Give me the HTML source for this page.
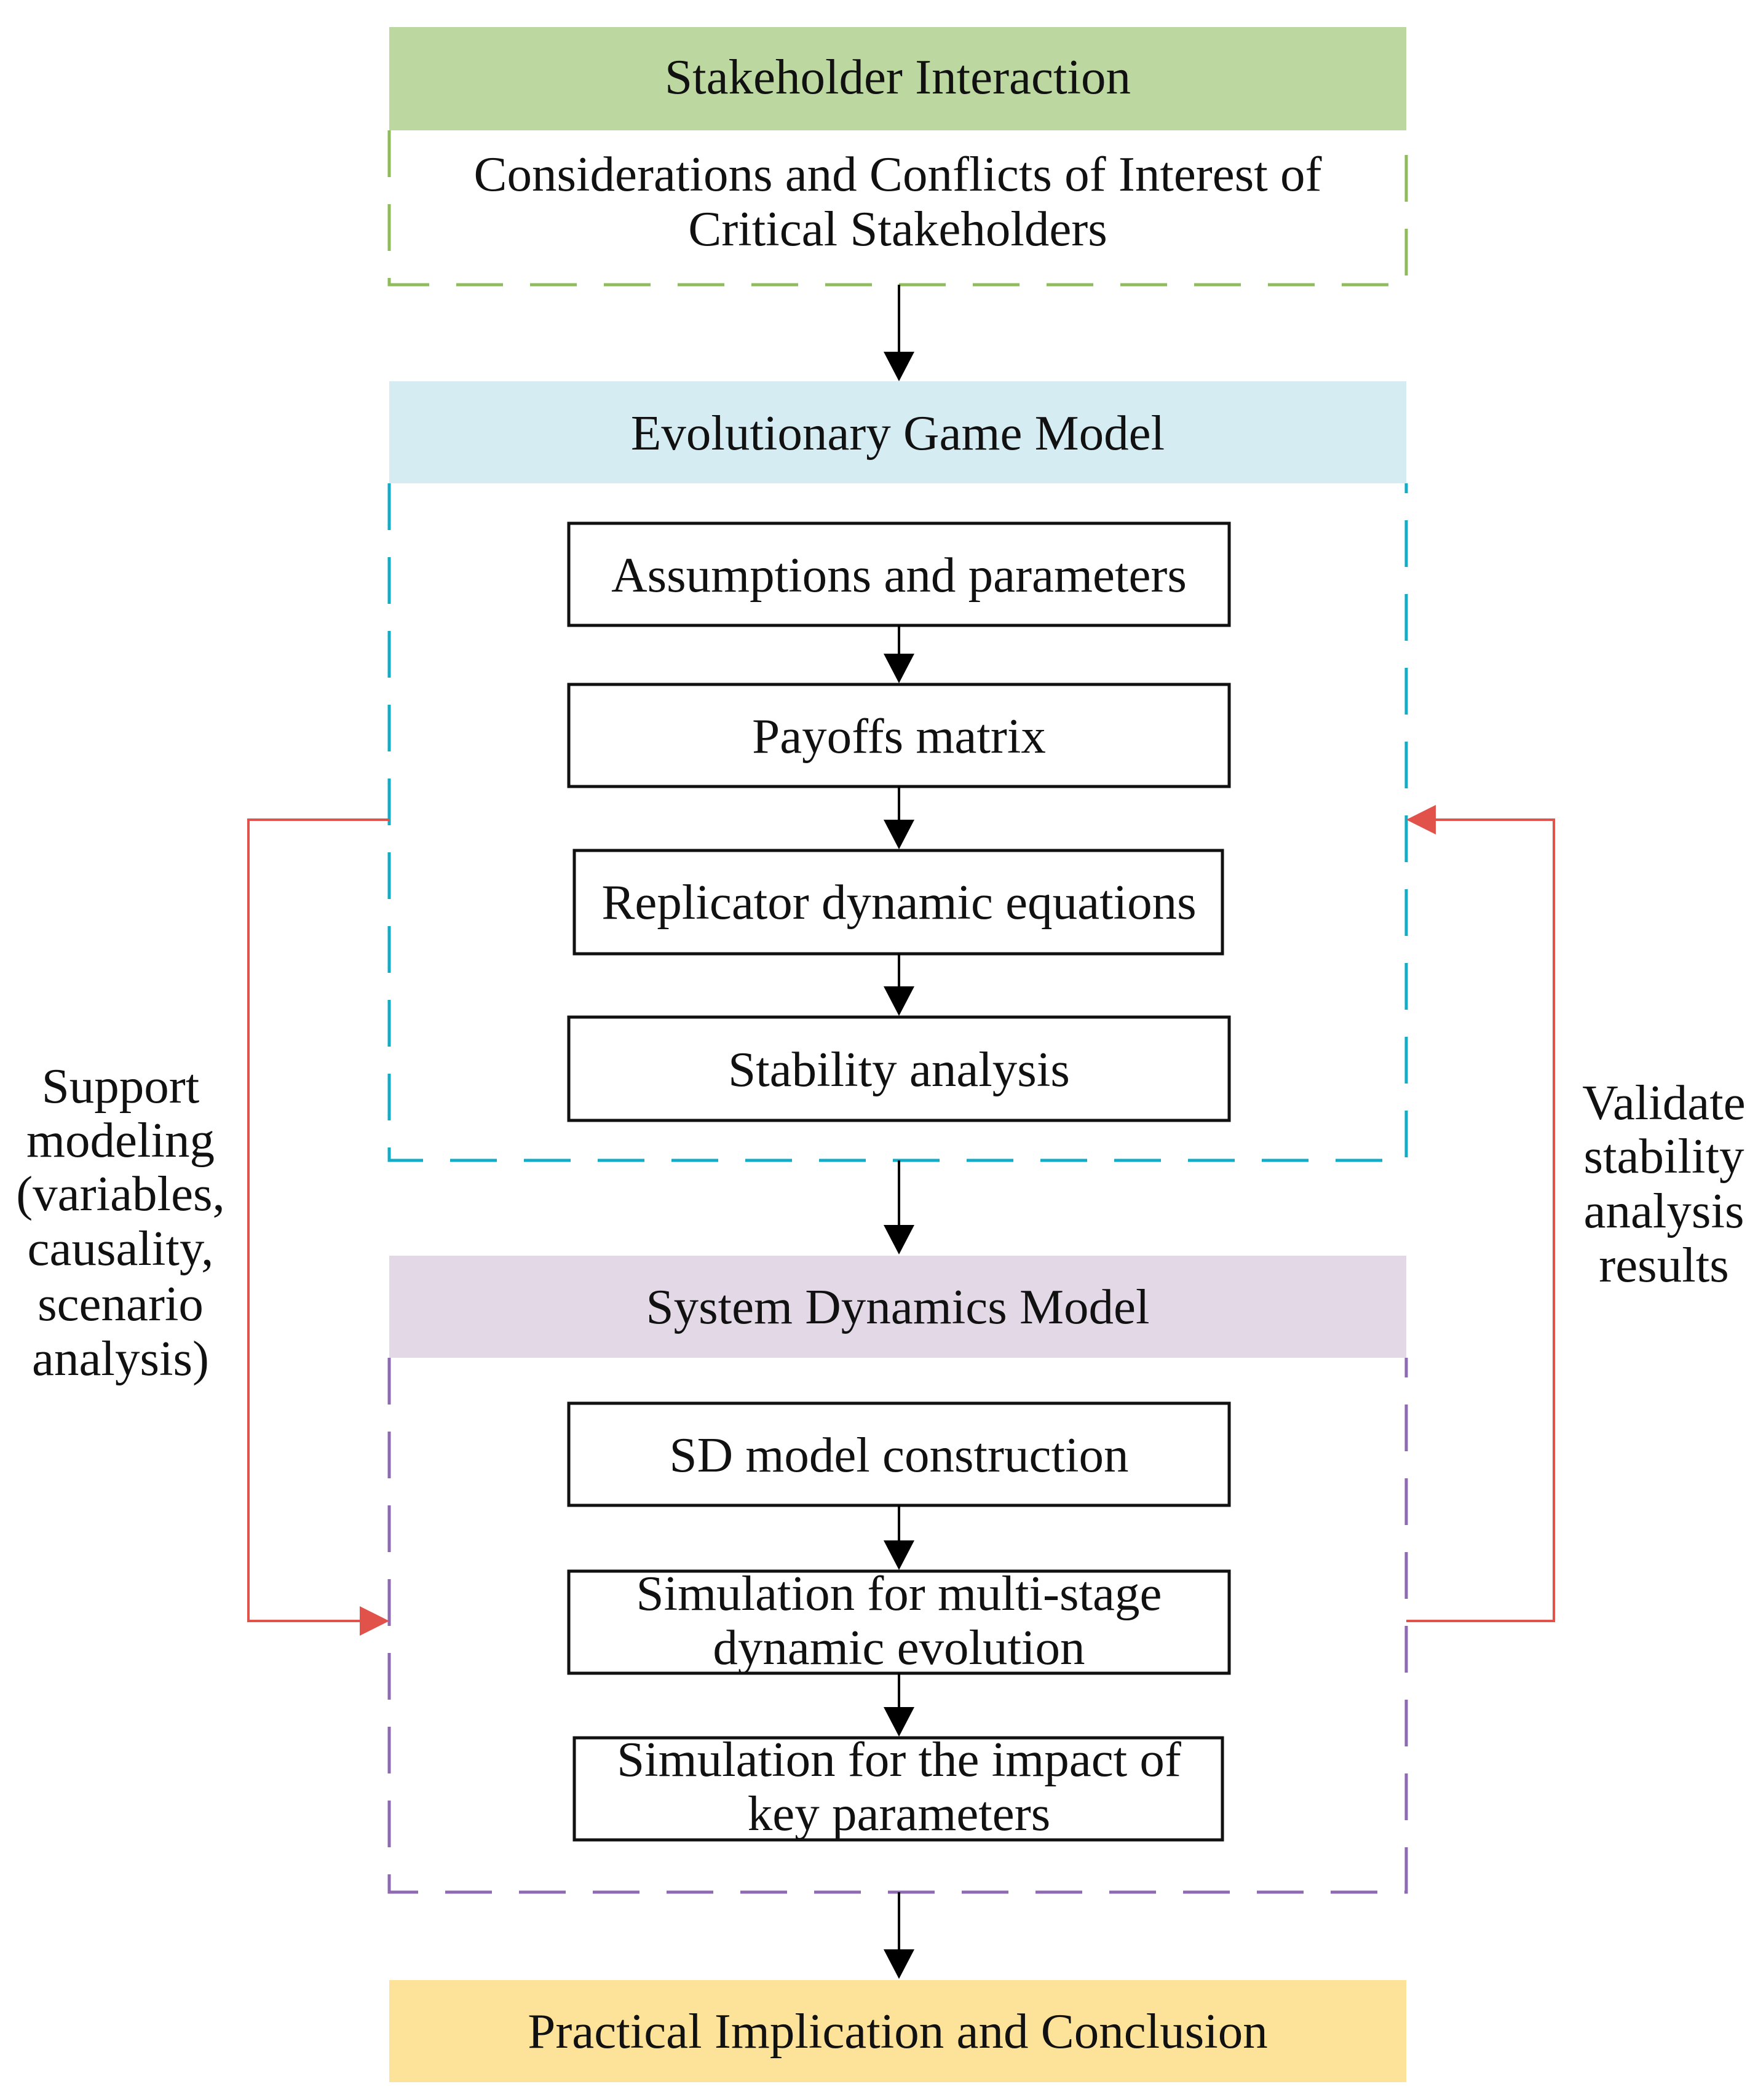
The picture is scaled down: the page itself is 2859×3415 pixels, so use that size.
<!DOCTYPE html>
<html><head><meta charset="utf-8"><style>
html,body{margin:0;padding:0;background:#fff}
svg text{font-family:"Liberation Serif",serif;font-size:81px;fill:#111;text-anchor:middle}
</style></head><body>
<svg width="2859" height="3410" viewBox="0 0 2859 3410" xmlns="http://www.w3.org/2000/svg">
<!-- Stakeholder -->
<rect x="633" y="44" width="1654" height="168" fill="#bdd7a0"/>
<path d="M633 212 V463 H2287 V212" fill="none" stroke="#8fbc5a" stroke-width="5" stroke-dasharray="76 44"/>
<text x="1460" y="152">Stakeholder Interaction</text>
<text x="1460" y="310">Considerations and Conflicts of Interest of</text>
<text x="1460" y="399">Critical Stakeholders</text>
<!-- EGM -->
<rect x="633" y="620" width="1654" height="166" fill="#d5edf2"/>
<path d="M633 786 V1887 H2287 V786" fill="none" stroke="#13acc6" stroke-width="5" stroke-dasharray="76 44"/>
<text x="1460" y="731">Evolutionary Game Model</text>
<!-- SD -->
<rect x="633" y="2042" width="1654" height="166" fill="#e2d8e6"/>
<path d="M633 2208 V3077 H2287 V2208" fill="none" stroke="#8e6bb0" stroke-width="5" stroke-dasharray="76 44"/>
<text x="1460" y="2152">System Dynamics Model</text>
<!-- Conclusion -->
<rect x="633" y="3220" width="1654" height="166" fill="#fde39a"/>
<text x="1460" y="3330">Practical Implication and Conclusion</text>
<!-- inner boxes -->
<g fill="#fff" stroke="#111" stroke-width="5">
<rect x="925" y="851" width="1074" height="166"/>
<rect x="925" y="1113" width="1074" height="166"/>
<rect x="934" y="1383" width="1054" height="168"/>
<rect x="925" y="1654" width="1074" height="168"/>
<rect x="925" y="2282" width="1074" height="166"/>
<rect x="925" y="2555" width="1074" height="166"/>
<rect x="934" y="2826" width="1054" height="166"/>
</g>
<text x="1462" y="962">Assumptions and parameters</text>
<text x="1462" y="1224">Payoffs matrix</text>
<text x="1462" y="1494">Replicator dynamic equations</text>
<text x="1462" y="1766">Stability analysis</text>
<text x="1462" y="2393">SD model construction</text>
<text x="1462" y="2618">Simulation for multi-stage</text>
<text x="1462" y="2706">dynamic evolution</text>
<text x="1462" y="2888">Simulation for the impact of</text>
<text x="1462" y="2976">key parameters</text>
<!-- arrows -->
<g stroke="#000" stroke-width="4">
<line x1="1462" y1="463" x2="1462" y2="580"/>
<line x1="1462" y1="1017" x2="1462" y2="1070"/>
<line x1="1462" y1="1279" x2="1462" y2="1340"/>
<line x1="1462" y1="1551" x2="1462" y2="1610"/>
<line x1="1462" y1="1887" x2="1462" y2="2000"/>
<line x1="1462" y1="2448" x2="1462" y2="2510"/>
<line x1="1462" y1="2721" x2="1462" y2="2780"/>
<line x1="1462" y1="3077" x2="1462" y2="3180"/>
</g>
<g fill="#000">
<path d="M1437 572 L1487 572 L1462 620 z"/>
<path d="M1437 1063 L1487 1063 L1462 1111 z"/>
<path d="M1437 1333 L1487 1333 L1462 1381 z"/>
<path d="M1437 1604 L1487 1604 L1462 1652 z"/>
<path d="M1437 1992 L1487 1992 L1462 2040 z"/>
<path d="M1437 2505 L1487 2505 L1462 2553 z"/>
<path d="M1437 2776 L1487 2776 L1462 2824 z"/>
<path d="M1437 3170 L1487 3170 L1462 3218 z"/>
</g>
<!-- red connectors -->
<path d="M633 1333 H404 V2636 H590" fill="none" stroke="#e0524a" stroke-width="4"/>
<path d="M585 2612 L633 2636 L585 2660 z" fill="#e0524a"/>
<path d="M2287 2636 H2527 V1333 H2330" fill="none" stroke="#e0524a" stroke-width="4"/>
<path d="M2335 1309 L2287 1333 L2335 1357 z" fill="#e0524a"/>
<!-- side labels -->
<text x="196" y="1793">Support</text>
<text x="196" y="1881">modeling</text>
<text x="196" y="1968">(variables,</text>
<text x="196" y="2057">causality,</text>
<text x="196" y="2147">scenario</text>
<text x="196" y="2236">analysis)</text>
<text x="2706" y="1820">Validate</text>
<text x="2706" y="1907">stability</text>
<text x="2706" y="1996">analysis</text>
<text x="2706" y="2084">results</text>
</svg>
</body></html>
